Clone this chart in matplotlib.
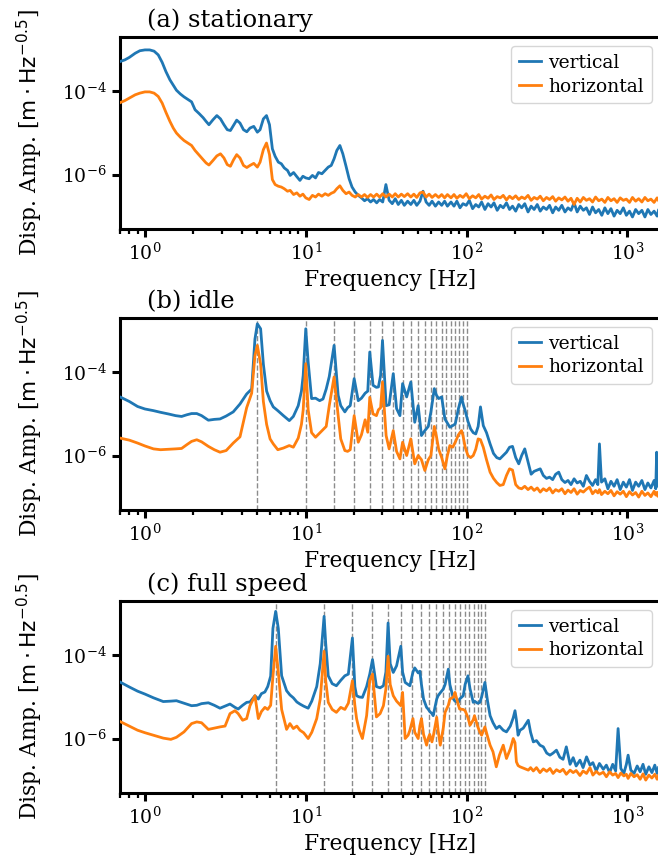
import numpy as np
import matplotlib
matplotlib.use("Agg")
import matplotlib.pyplot as plt
from matplotlib.ticker import FixedLocator, NullLocator

# values: frequency [Hz] and log10 of the amplitude

# (a) stationary
f_a = [0.70, 0.75, 0.80, 0.87, 0.93, 1.00, 1.07, 1.14, 1.21, 1.28,
       1.35, 1.43, 1.50, 1.57, 1.66, 1.75, 1.85, 1.95, 2.05, 2.17,
       2.30, 2.40, 2.50, 2.65, 2.80, 2.95, 3.10, 3.25, 3.40, 3.55,
       3.72, 3.90, 4.10, 4.30, 4.50, 4.75, 5.00, 5.20, 5.45, 5.70,
       5.95, 6.20, 6.45, 6.75, 7.05, 7.35, 7.70, 8.00, 8.40, 8.80,
       9.20, 9.60, 10.0, 10.5, 11.0, 11.5, 12.0, 12.6, 13.2, 13.8,
       14.4, 15.0, 15.6, 16.3, 17.0, 17.8, 18.6, 19.4, 20.3, 21.2,
       22.2, 23.2, 24.2, 25.3, 26.4, 27.6, 28.8, 30.1, 31.5, 33.0,
       34.5, 36.0, 37.6, 39.3, 41.0, 43.0, 45.0, 47.0, 49.0, 51.3,
       53.6, 56.0, 58.5, 61.0, 64.0, 67.0, 70.0, 73.0, 76.0, 80.0,
       83.5, 87.0, 91.0, 95.0, 99.5, 104, 109, 114, 119, 124,
       130, 136, 142, 148, 155, 162, 169, 177, 185, 193,
       202, 211, 220, 230, 241, 252, 263, 275, 287, 300,
       314, 328, 343, 358, 374, 391, 409, 427, 446, 466,
       487, 509, 532, 556, 581, 607, 634, 663, 693, 724,
       756, 790, 826, 863, 902, 943, 985, 1030, 1075, 1125,
       1175, 1230, 1285, 1340, 1400, 1465, 1530, 1560]
va = [-3.28, -3.24, -3.18, -3.08, -3.02, -3.00, -3.00, -3.03, -3.12, -3.30,
      -3.52, -3.72, -3.85, -3.97, -4.06, -4.13, -4.19, -4.25, -4.44, -4.53,
      -4.63, -4.72, -4.80, -4.68, -4.58, -4.66, -4.80, -4.92, -4.94, -4.82,
      -4.69, -4.76, -4.92, -4.97, -4.88, -4.84, -4.98, -4.92, -4.66, -4.58,
      -4.80, -5.38, -5.56, -5.70, -5.74, -5.84, -5.90, -6.02, -5.95, -6.05,
      -6.14, -6.04, -6.08, -6.10, -6.02, -6.08, -5.95, -5.98, -5.90, -5.82,
      -5.78, -5.62, -5.42, -5.30, -5.50, -5.80, -6.10, -6.30, -6.42, -6.50,
      -6.56, -6.63, -6.58, -6.66, -6.60, -6.68, -6.60, -6.66, -6.24, -6.62,
      -6.70, -6.58, -6.72, -6.62, -6.74, -6.64, -6.72, -6.62, -6.74, -6.64,
      -6.40, -6.66, -6.74, -6.64, -6.76, -6.66, -6.74, -6.64, -6.76, -6.66,
      -6.76, -6.64, -6.80, -6.70, -6.74, -6.62, -6.82, -6.72, -6.78, -6.66,
      -6.84, -6.70, -6.78, -6.68, -6.86, -6.74, -6.80, -6.68, -6.84, -6.76,
      -6.88, -6.72, -6.80, -6.70, -6.90, -6.76, -6.84, -6.72, -6.88, -6.78,
      -6.84, -6.74, -6.92, -6.78, -6.86, -6.74, -6.90, -6.80, -6.86, -6.68,
      -6.90, -6.76, -6.86, -6.80, -6.96, -6.78, -6.92, -6.84, -6.98, -6.80,
      -6.94, -6.82, -7.00, -6.86, -6.94, -6.80, -6.98, -6.88, -7.02, -6.84,
      -6.94, -6.86, -7.02, -6.84, -6.96, -6.88, -7.00, -6.86]
ha = [-4.27, -4.22, -4.16, -4.08, -4.04, -4.01, -4.01, -4.04, -4.12, -4.28,
      -4.50, -4.72, -4.88, -5.00, -5.10, -5.18, -5.24, -5.30, -5.42, -5.53,
      -5.64, -5.72, -5.77, -5.66, -5.55, -5.50, -5.60, -5.76, -5.80, -5.65,
      -5.52, -5.60, -5.78, -5.83, -5.78, -5.73, -5.82, -5.70, -5.40, -5.24,
      -5.52, -6.12, -6.24, -6.28, -6.30, -6.34, -6.40, -6.38, -6.48, -6.44,
      -6.52, -6.47, -6.56, -6.60, -6.50, -6.54, -6.47, -6.52, -6.46, -6.50,
      -6.45, -6.42, -6.34, -6.27, -6.38, -6.46, -6.42, -6.50, -6.54, -6.48,
      -6.54, -6.48, -6.55, -6.48, -6.54, -6.47, -6.54, -6.46, -6.54, -6.47,
      -6.54, -6.46, -6.54, -6.47, -6.53, -6.46, -6.54, -6.47, -6.55, -6.44,
      -6.42, -6.54, -6.47, -6.55, -6.48, -6.55, -6.48, -6.56, -6.48, -6.56,
      -6.48, -6.57, -6.50, -6.55, -6.46, -6.58, -6.51, -6.56, -6.48, -6.59,
      -6.52, -6.57, -6.49, -6.60, -6.53, -6.56, -6.50, -6.61, -6.52, -6.58,
      -6.51, -6.60, -6.54, -6.58, -6.50, -6.62, -6.55, -6.59, -6.52, -6.63,
      -6.55, -6.60, -6.53, -6.64, -6.56, -6.61, -6.54, -6.64, -6.57, -6.72,
      -6.57, -6.66, -6.55, -6.62, -6.58, -6.66, -6.54, -6.63, -6.59, -6.67,
      -6.55, -6.63, -6.58, -6.67, -6.56, -6.62, -6.59, -6.67, -6.55, -6.64,
      -6.58, -6.66, -6.55, -6.63, -6.59, -6.67, -6.56, -6.62]

# (b) idle
f_b = [0.70, 0.80, 0.90, 1.00, 1.13, 1.25, 1.40, 1.55, 1.69, 1.82,
       1.95, 2.10, 2.25, 2.48, 2.70, 2.93, 3.20, 3.54, 3.90, 4.29,
       4.61, 4.83, 5.00, 5.24, 5.45, 5.71, 6.00, 6.28, 6.70, 7.26,
       7.90, 8.37, 8.98, 9.40, 9.64, 10.0, 10.35, 10.87, 11.5, 12.2,
       12.8, 13.4, 14.0, 15.0, 15.9, 16.5, 17.5, 18.2, 18.9, 20.0,
       21.2, 22.2, 23.4, 24.3, 25.0, 26.2, 27.5, 28.3, 29.2, 30.0,
       31.6, 33.0, 35.0, 36.7, 38.5, 40.0, 42.4, 45.0, 47.6, 50.0,
       52.4, 55.0, 57.8, 60.0, 63.0, 65.0, 67.0, 70.0, 73.3, 76.0,
       78.7, 82.0, 85.0, 89.0, 93.0, 95.0, 98.0, 102, 106, 110,
       114, 118, 122, 127, 133, 140, 147, 154, 161, 169,
       177, 185, 193, 202, 211, 220, 230, 241, 252, 263,
       275, 287, 300, 314, 328, 343, 358, 374, 391, 409,
       427, 446, 466, 487, 509, 532, 556, 581, 607, 634,
       655, 670, 690, 724, 756, 790, 826, 863, 902, 943,
       985, 1030, 1075, 1125, 1175, 1230, 1285, 1340, 1400, 1465,
       1500, 1520, 1545, 1560]
vb = [-4.59, -4.70, -4.82, -4.88, -4.92, -4.96, -5.00, -5.04, -5.06, -5.02,
      -4.99, -4.99, -5.04, -5.15, -5.13, -5.12, -5.05, -4.95, -4.76, -4.52,
      -4.40, -3.20, -2.83, -2.95, -3.80, -4.45, -4.68, -4.83, -4.92, -5.04,
      -5.16, -5.06, -4.80, -4.45, -4.07, -2.95, -3.75, -4.63, -4.62, -4.68,
      -4.64, -4.40, -4.10, -3.35, -4.55, -4.80, -4.95, -4.85, -4.80, -4.15,
      -4.68, -4.62, -4.50, -4.45, -3.51, -4.31, -4.36, -4.35, -4.07, -3.23,
      -4.80, -4.78, -4.03, -4.87, -5.04, -4.27, -4.59, -4.23, -5.20, -4.80,
      -5.52, -5.40, -5.30, -4.95, -4.39, -4.55, -4.63, -4.59, -5.12, -5.22,
      -5.32, -5.28, -5.24, -4.87, -4.59, -4.75, -4.92, -5.18, -5.36, -5.45,
      -5.48, -5.30, -4.83, -5.28, -5.45, -5.72, -5.95, -6.05, -6.08, -6.00,
      -5.92, -5.80, -5.78, -6.05, -6.20, -6.00, -5.84, -6.15, -6.45, -6.38,
      -6.35, -6.32, -6.48, -6.55, -6.52, -6.58, -6.45, -6.40, -6.58, -6.65,
      -6.60, -6.70, -6.56, -6.66, -6.62, -6.74, -6.48, -6.62, -6.72, -6.58,
      -6.70, -5.72, -6.64, -6.56, -6.80, -6.62, -6.74, -6.58, -6.82, -6.64,
      -6.76, -6.58, -6.84, -6.64, -6.74, -6.60, -6.82, -6.66, -6.78, -6.60,
      -6.80, -5.92, -6.74, -6.66]
hb = [-5.58, -5.63, -5.70, -5.77, -5.84, -5.86, -5.85, -5.84, -5.83, -5.74,
      -5.66, -5.62, -5.67, -5.78, -5.86, -5.92, -5.88, -5.70, -5.55, -4.85,
      -4.50, -3.60, -3.35, -3.80, -4.70, -5.25, -5.60, -5.72, -5.86, -5.82,
      -5.76, -5.80, -5.58, -5.25, -4.90, -3.79, -4.90, -5.45, -5.56, -5.46,
      -5.38, -5.30, -4.80, -4.11, -5.04, -5.60, -5.88, -5.90, -5.86, -5.04,
      -5.68, -5.50, -5.14, -5.44, -4.60, -5.00, -5.04, -4.90, -4.85, -4.23,
      -5.52, -5.84, -5.40, -5.90, -6.08, -5.68, -6.00, -5.60, -6.20, -6.00,
      -6.10, -6.36, -6.10, -6.00, -5.30, -5.55, -5.84, -6.05, -6.32, -6.00,
      -5.76, -5.80, -5.68, -5.50, -5.40, -5.52, -5.80, -6.00, -6.05, -6.00,
      -5.85, -5.60, -5.62, -5.80, -6.10, -6.40, -6.55, -6.65, -6.72, -6.70,
      -6.48, -6.32, -6.35, -6.70, -6.78, -6.80, -6.74, -6.82, -6.76, -6.84,
      -6.78, -6.88, -6.80, -6.85, -6.78, -6.90, -6.82, -6.86, -6.80, -6.92,
      -6.83, -6.89, -6.80, -6.93, -6.84, -6.88, -6.81, -6.76, -6.92, -6.84,
      -6.90, -6.82, -6.94, -6.86, -6.92, -6.84, -6.97, -6.87, -6.93, -6.86,
      -6.99, -6.87, -6.95, -6.89, -7.00, -6.86, -6.96, -6.90, -6.99, -6.86,
      -6.95, -6.89, -6.98, -6.90]

# (c) full speed
f_c = [0.70, 0.80, 0.90, 1.00, 1.13, 1.30, 1.45, 1.57, 1.75, 1.95,
       2.10, 2.25, 2.48, 2.70, 2.93, 3.15, 3.38, 3.63, 3.80, 4.05,
       4.29, 4.50, 4.83, 5.07, 5.30, 5.57, 5.80, 6.05, 6.25, 6.50,
       6.75, 7.08, 7.60, 7.97, 8.37, 8.80, 9.20, 9.70, 10.35, 10.9,
       11.7, 12.3, 12.7, 13.0, 13.3, 13.8, 14.6, 15.5, 16.5, 17.5,
       18.4, 19.5, 20.2, 20.7, 21.5, 22.5, 23.9, 25.0, 26.0, 27.5,
       29.0, 30.4, 31.5, 32.5, 33.5, 35.0, 36.7, 39.0, 40.0, 41.5,
       43.3, 44.4, 46.4, 47.6, 50.0, 51.2, 52.4, 54.0, 56.4, 57.6,
       59.0, 60.9, 62.0, 65.2, 66.5, 68.6, 71.6, 73.5, 77.0, 78.7,
       82.9, 84.7, 89.0, 90.5, 95.3, 97.9, 102, 105, 110, 112,
       117, 121, 124, 130, 135, 140, 146, 153, 160, 169,
       177, 187, 195, 200, 204, 209, 215, 225, 242, 250,
       260, 272, 286, 300, 315, 330, 345, 362, 380, 398,
       417, 440, 460, 480, 507, 530, 557, 585, 610, 640,
       670, 708, 740, 775, 810, 845, 875, 910, 950, 985,
       1010, 1050, 1100, 1150, 1200, 1250, 1300, 1360, 1420, 1480,
       1530, 1560]
vc = [-4.64, -4.76, -4.86, -4.93, -5.02, -5.11, -5.10, -5.09, -5.15, -5.21,
      -5.20, -5.16, -5.14, -5.20, -5.27, -5.22, -5.17, -5.25, -5.29, -5.20,
      -5.13, -5.12, -4.97, -5.05, -4.92, -4.88, -4.75, -4.50, -3.35, -2.94,
      -3.35, -4.49, -4.85, -4.95, -5.02, -5.12, -5.17, -5.22, -5.27, -5.10,
      -4.75, -4.20, -3.55, -3.06, -3.70, -4.49, -4.68, -4.73, -4.60, -4.49,
      -4.45, -3.58, -4.75, -4.97, -5.00, -5.01, -4.75, -4.45, -4.10, -4.75,
      -4.78, -4.73, -4.40, -3.22, -4.20, -4.41, -4.25, -3.78, -4.40, -4.65,
      -4.70, -4.73, -4.40, -4.30, -4.42, -4.38, -4.70, -5.05, -5.25, -5.29,
      -5.35, -5.40, -5.45, -5.05, -4.97, -4.90, -4.81, -4.70, -4.33, -4.70,
      -5.05, -5.10, -5.13, -5.05, -4.97, -4.70, -4.49, -4.80, -5.13, -5.10,
      -5.15, -5.13, -5.00, -4.65, -5.10, -5.45, -5.62, -5.76, -5.70, -5.80,
      -5.84, -5.70, -5.50, -5.33, -5.55, -5.92, -5.80, -5.75, -5.56, -5.85,
      -6.08, -6.05, -6.16, -6.20, -6.35, -6.40, -6.35, -6.28, -6.45, -6.50,
      -6.20, -6.62, -6.46, -6.66, -6.52, -6.70, -6.44, -6.64, -6.58, -6.78,
      -6.60, -6.74, -6.64, -6.82, -6.62, -6.78, -5.76, -6.72, -6.84, -6.62,
      -6.40, -6.76, -6.84, -6.66, -6.80, -6.62, -6.86, -6.68, -6.82, -6.64,
      -6.84, -6.70]
hc = [-5.59, -5.70, -5.80, -5.86, -5.92, -5.99, -6.02, -5.97, -5.84, -5.64,
      -5.60, -5.62, -5.78, -5.75, -5.72, -5.70, -5.40, -5.33, -5.40, -5.56,
      -5.52, -5.21, -4.97, -5.52, -5.35, -5.25, -5.30, -5.20, -4.50, -3.78,
      -4.40, -5.30, -5.78, -5.64, -5.76, -5.70, -5.80, -5.86, -6.00, -5.85,
      -5.52, -5.05, -4.40, -3.90, -4.60, -5.13, -5.30, -5.37, -5.25, -5.30,
      -5.15, -4.61, -5.20, -5.52, -5.80, -6.00, -5.45, -4.60, -4.45, -5.48,
      -5.40, -5.21, -4.80, -4.02, -4.70, -4.97, -5.10, -5.21, -4.89, -6.00,
      -5.92, -5.80, -5.52, -5.85, -6.00, -5.70, -5.52, -5.90, -6.16, -6.00,
      -5.90, -6.08, -5.95, -5.49, -5.80, -6.16, -5.75, -5.37, -5.20, -5.05,
      -5.00, -4.89, -5.20, -5.29, -5.30, -5.33, -5.50, -5.68, -5.55, -5.45,
      -5.70, -5.85, -5.92, -5.72, -5.95, -6.16, -6.32, -6.68, -6.40, -6.16,
      -6.48, -6.25, -6.00, -6.10, -6.56, -6.65, -6.68, -6.71, -6.76, -6.70,
      -6.78, -6.70, -6.82, -6.73, -6.79, -6.72, -6.84, -6.75, -6.80, -6.74,
      -6.86, -6.76, -6.82, -6.77, -6.89, -6.78, -6.84, -6.70, -6.88, -6.79,
      -6.86, -6.81, -6.92, -6.80, -6.88, -6.84, -6.94, -6.83, -6.90, -6.86,
      -6.96, -6.84, -6.92, -6.87, -6.98, -6.85, -7.00, -6.88, -6.95, -6.86,
      -6.98, -6.89]

# rotation harmonics marked with dashed lines
idle_lines = [5, 10, 15, 20, 25, 30, 35, 40, 45, 50,
              55, 60, 65, 70, 75, 80, 85, 90, 95, 100]
full_lines = [6.5, 13, 19.5, 26, 32.5, 39, 45.5, 52, 58.5, 65,
              71.5, 78, 84.5, 91, 97.5, 104, 110.5, 117, 123.5, 130]

for f, v, h in [(f_a, va, ha), (f_b, vb, hb), (f_c, vc, hc)]:
    assert len(f) == len(v) == len(h), (len(f), len(v), len(h))

plt.rcParams["font.family"] = "DejaVu Serif"
plt.rcParams["mathtext.fontset"] = "dejavusans"
plt.rcParams["axes.linewidth"] = 2.2
for k in ["xtick", "ytick"]:
    plt.rcParams[k + ".major.width"] = 2.2
    plt.rcParams[k + ".major.size"] = 6
    plt.rcParams[k + ".minor.width"] = 1.6
    plt.rcParams[k + ".minor.size"] = 3.8
    plt.rcParams[k + ".labelsize"] = 13.5

panels = [("(a) stationary", f_a, va, ha, []),
          ("(b) idle", f_b, vb, hb, idle_lines),
          ("(c) full speed", f_c, vc, hc, full_lines)]
bottoms = [0.734, 0.4077, 0.079]

fig = plt.figure(figsize=(6.58, 8.61), dpi=100)
for (title, f, v, h, lines), b in zip(panels, bottoms):
    ax = fig.add_axes([0.1824, b, 0.8222, 0.223])
    for x in lines:
        ax.axvline(x, color="0.55", ls="--", lw=1.0, zorder=1)
    ax.plot(f, 10 ** np.array(v), color="#1f77b4", lw=2.0, label="vertical", zorder=3)
    ax.plot(f, 10 ** np.array(h), color="#ff7f0e", lw=2.0, label="horizontal", zorder=3)
    ax.set_xscale("log")
    ax.set_yscale("log")
    ax.set_xlim(0.7, 1618)
    ax.set_ylim(10 ** -7.31, 10 ** -2.69)
    ax.yaxis.set_major_locator(FixedLocator([1e-6, 1e-4]))
    ax.yaxis.set_minor_locator(NullLocator())
    ax.set_xlabel("Frequency [Hz]", fontsize=15.7)
    ax.set_ylabel(r"Disp. Amp. [$\mathrm{m} \cdot \mathrm{Hz}^{-0.5}$]",
                  fontsize=15.7, labelpad=12)
    ax.text(0.05, 1.052, title, transform=ax.transAxes, fontsize=17.5, va="baseline")
    ax.legend(loc="upper right", fontsize=13.5, handlelength=1.2,
              handletextpad=0.4, labelspacing=0.3)

fig.savefig("out.png", dpi=100)
